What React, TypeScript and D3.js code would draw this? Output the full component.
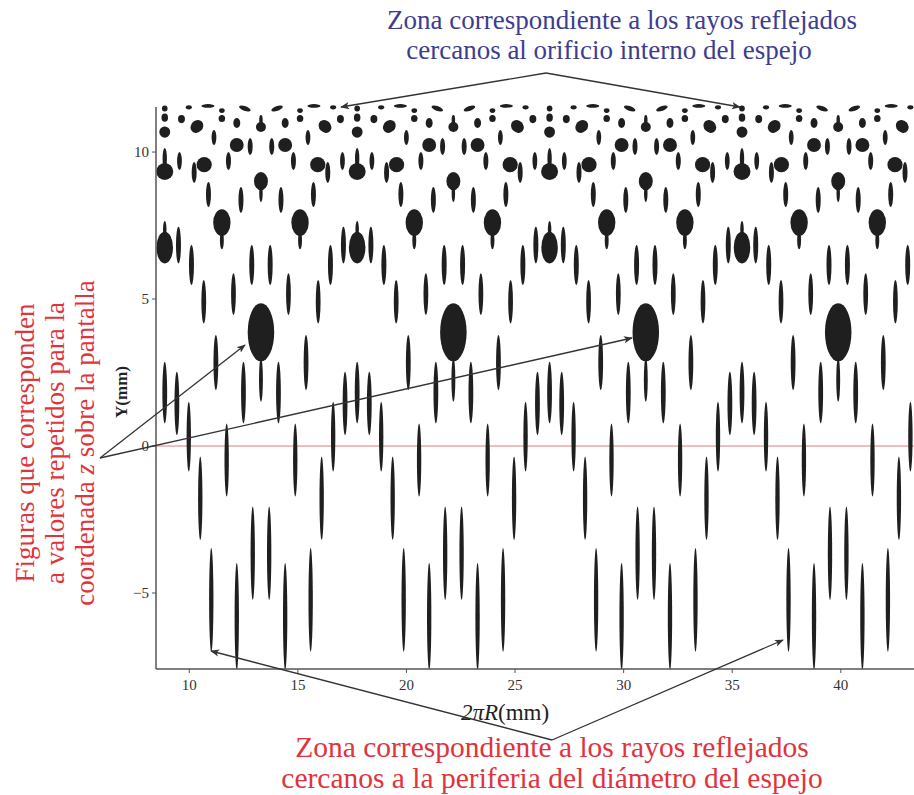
import React from "react";
import * as d3 from "d3";

// ---------- data ----------
const X_TICKS = [10, 15, 20, 25, 30, 35, 40];
const Y_TICKS = [-5, 0, 5, 10];

// centres of the repeated pattern (big blob at Y≈4) along 2πR (mm)
const PERIOD_CENTERS = [4.44, 13.3, 22.16, 31.02, 39.88, 48.74];
const HALF_PERIOD = 4.43;

// needles placed symmetrically at ±offset around every centre: [offset, top Y, bottom Y, half width]
const MIRRORED_NEEDLES: [number, number, number, number][] = [
  [0.378, -2.06, -5.24, 0.1],
  [0.424, 6.84, 5.48, 0.115],
  [0.497, 10.48, 9.9, 0.115],
  [0.806, 2.87, 0.77, 0.11],
  [0.921, 8.81, 7.93, 0.115],
  [1.114, -3.98, -7.62, 0.1],
  [1.266, 5.88, 4.46, 0.11],
  [1.496, 10.0, 9.39, 0.115],
  [1.579, 0.77, -1.72, 0.1],
  [1.8, 7.3, 6.69, 0.09],
  [2.076, 3.78, 1.9, 0.11],
  [2.164, 10.75, 10.24, 0.11],
  [2.288, -3.47, -7.0, 0.1],
  [2.417, 8.98, 8.13, 0.115],
  [2.634, 5.65, 4.17, 0.11],
  [2.795, -0.36, -3.2, 0.1],
  [3.076, 9.66, 8.95, 0.115],
  [3.2, 6.84, 5.48, 0.115],
  [3.324, 1.51, -0.87, 0.1],
  [3.752, 10.0, 9.39, 0.11],
  [3.798, 7.46, 6.21, 0.115],
  [3.872, 2.53, 0.37, 0.11],
];

// rounder figures placed at ±offset: [offset, centre Y, half width, half height, tilt°]
const MIRRORED_BLOBS: [number, number, number, number, number][] = [
  [0.74, 11.48, 0.28, 0.08, -20],
  [1.114, 10.24, 0.32, 0.24, 0],
  [1.114, 10.99, 0.16, 0.17, 0],
  [1.8, 7.6, 0.4, 0.455, 0],
  [1.8, 11.41, 0.13, 0.08, 0],
  [1.8, 11.14, 0.15, 0.12, 0],
  [2.44, 11.57, 0.3, 0.06, 0],
  [2.615, 9.57, 0.35, 0.26, 0],
  [2.95, 10.87, 0.32, 0.2, 45],
  [3.324, 11.52, 0.14, 0.07, 0],
  [3.66, 11.12, 0.16, 0.14, 0],
];

// figures on the symmetry axes: position 0 = centre, 1 = half period
// [position, centre Y, half width, half height]
const AXIS_BLOBS: [number, number, number, number][] = [
  [0, 3.87, 0.61, 0.99],
  [0, 9.01, 0.32, 0.31],
  [0, 10.85, 0.23, 0.17],
  [1, 11.48, 0.13, 0.1],
  [1, 11.17, 0.15, 0.14],
  [1, 10.68, 0.25, 0.19],
  [1, 9.34, 0.39, 0.29],
  [1, 6.75, 0.38, 0.54],
];
// [position, top Y, bottom Y, half width]
const AXIS_NEEDLES: [number, number, number, number][] = [
  [0, 3.0, 1.51, 0.09],
  [0, 8.9, 8.3, 0.08],
  [0, 11.26, 10.9, 0.08],
  [1, 10.14, 9.4, 0.1],
  [1, 7.65, 7.1, 0.08],
  [1, 2.87, 0.77, 0.11],
];

const W = 914;
const H = 795;
const PL = 156;
const PR = 914;
const PT = 105;
const PB = 669;

const INK = "#1f1f1f";
const SERIF = "'Liberation Serif', 'Times New Roman', serif";

export default function App() {
  const xs = d3.scaleLinear().domain([8.467, 43.37]).range([PL, PR]);
  const ys = d3.scaleLinear().domain([-7.585, 11.6]).range([PB, PT]);

  const shapes: React.ReactNode[] = [];
  let k = 0;
  const ell = (cxD: number, cyD: number, rxD: number, ryD: number, rot: number) => {
    const cx = xs(cxD);
    const cy = ys(cyD);
    const rx = Math.abs(xs(cxD + rxD) - cx);
    const ry = Math.abs(ys(cyD + ryD) - cy);
    shapes.push(
      <ellipse
        key={k++}
        cx={cx}
        cy={cy}
        rx={rx}
        ry={ry}
        fill={INK}
        transform={rot ? `rotate(${rot} ${cx} ${cy})` : undefined}
      />
    );
  };
  const needle = (xD: number, top: number, bot: number, hw: number) => {
    ell(xD, (top + bot) / 2, hw, Math.abs(top - bot) / 2, 0);
  };

  PERIOD_CENTERS.forEach((c) => {
    MIRRORED_NEEDLES.forEach(([o, t, b, hw]) => {
      needle(c - o, t, b, hw);
      needle(c + o, t, b, hw);
    });
    MIRRORED_BLOBS.forEach(([o, cy, rx, ry, rot]) => {
      ell(c - o, cy, rx, ry, -rot);
      ell(c + o, cy, rx, ry, rot);
    });
    AXIS_BLOBS.forEach(([p, cy, rx, ry]) => ell(c + p * HALF_PERIOD, cy, rx, ry, 0));
    AXIS_NEEDLES.forEach(([p, t, b, hw]) => needle(c + p * HALF_PERIOD, t, b, hw));
  });

  const arrowColor = "#333";

  return (
    <svg
      width={W}
      height={H}
      style={{ position: "absolute", left: 0, top: 0, background: "#fff" }}
      fontFamily={SERIF}
    >
      <defs>
        <clipPath id="plot">
          <rect x={PL} y={PT - 2} width={PR - PL} height={PB - PT + 2} />
        </clipPath>
        <marker id="ah" viewBox="0 0 10 10" refX="9" refY="5" markerWidth="9" markerHeight="9" orient="auto-start-reverse" markerUnits="userSpaceOnUse">
          <path d="M0,1 L10,5 L0,9 L2.5,5 Z" fill={arrowColor} />
        </marker>
      </defs>

      {/* zero line */}
      <line x1={150} x2={PR} y1={ys(0)} y2={ys(0)} stroke="#e07a7a" strokeWidth={1} />

      <g clipPath="url(#plot)">{shapes}</g>

      {/* axes */}
      <line x1={PL} x2={PL} y1={PT + 2} y2={PB} stroke="#555" strokeWidth={1.5} />
      <line x1={PL} x2={PR} y1={PB} y2={PB} stroke="#555" strokeWidth={1.5} />
      {Y_TICKS.map((t) => (
        <g key={"y" + t}>
          <line x1={PL - 4} x2={PL} y1={ys(t)} y2={ys(t)} stroke="#555" strokeWidth={1} />
          <text x={PL - 7} y={ys(t)} dy="0.35em" textAnchor="end" fontSize={15} fill="#333">
            {t < 0 ? "\u2212" + Math.abs(t) : t}
          </text>
        </g>
      ))}
      {X_TICKS.map((t) => (
        <g key={"x" + t}>
          <line x1={xs(t)} x2={xs(t)} y1={PB} y2={PB + 4} stroke="#555" strokeWidth={1} />
          <text x={xs(t)} y={PB + 21} textAnchor="middle" fontSize={15} fill="#333">
            {t}
          </text>
        </g>
      ))}

      <text transform="translate(127,392) rotate(-90)" textAnchor="middle" fontSize={17} fontWeight="bold" fill="#222">
        Y(mm)
      </text>
      <text x={505} y={720} textAnchor="middle" fontSize={23} fill="#222">
        <tspan fontStyle="italic">2πR</tspan>(mm)
      </text>

      {/* annotations */}
      <text x={622} y={29} textAnchor="middle" fontSize={27} fill="#3d3d8f">
        Zona correspondiente a los rayos reflejados
      </text>
      <text x={609} y={59} textAnchor="middle" fontSize={27} fill="#3d3d8f">
        cercanos al orificio interno del espejo
      </text>
      <line x1={546} y1={73} x2={341} y2={107} stroke={arrowColor} strokeWidth={1.3} markerEnd="url(#ah)" />
      <line x1={546} y1={73} x2={740} y2={107} stroke={arrowColor} strokeWidth={1.3} markerEnd="url(#ah)" />

      <text transform="translate(34,443) rotate(-90)" textAnchor="middle" fontSize={27} fill="#e0343c">
        Figuras que corresponden
      </text>
      <text transform="translate(64,443) rotate(-90)" textAnchor="middle" fontSize={27} fill="#e0343c">
        a valores repetidos para la
      </text>
      <text transform="translate(94,443) rotate(-90)" textAnchor="middle" fontSize={27} fill="#e0343c">
        coordenada <tspan fontStyle="italic">z</tspan> sobre la pantalla
      </text>
      <line x1={100} y1={458} x2={245} y2={345} stroke={arrowColor} strokeWidth={1.3} markerEnd="url(#ah)" />
      <line x1={100} y1={458} x2={632} y2={338} stroke={arrowColor} strokeWidth={1.3} markerEnd="url(#ah)" />

      <line x1={552} y1={740} x2={211} y2={651} stroke={arrowColor} strokeWidth={1.3} markerEnd="url(#ah)" />
      <line x1={552} y1={740} x2={783} y2={640} stroke={arrowColor} strokeWidth={1.3} markerEnd="url(#ah)" />
      <text x={552} y={757} textAnchor="middle" fontSize={29.5} fill="#e0343c">
        Zona correspondiente a los rayos reflejados
      </text>
      <text x={552} y={788} textAnchor="middle" fontSize={29.5} fill="#e0343c">
        cercanos a la periferia del diámetro del espejo
      </text>
    </svg>
  );
}
